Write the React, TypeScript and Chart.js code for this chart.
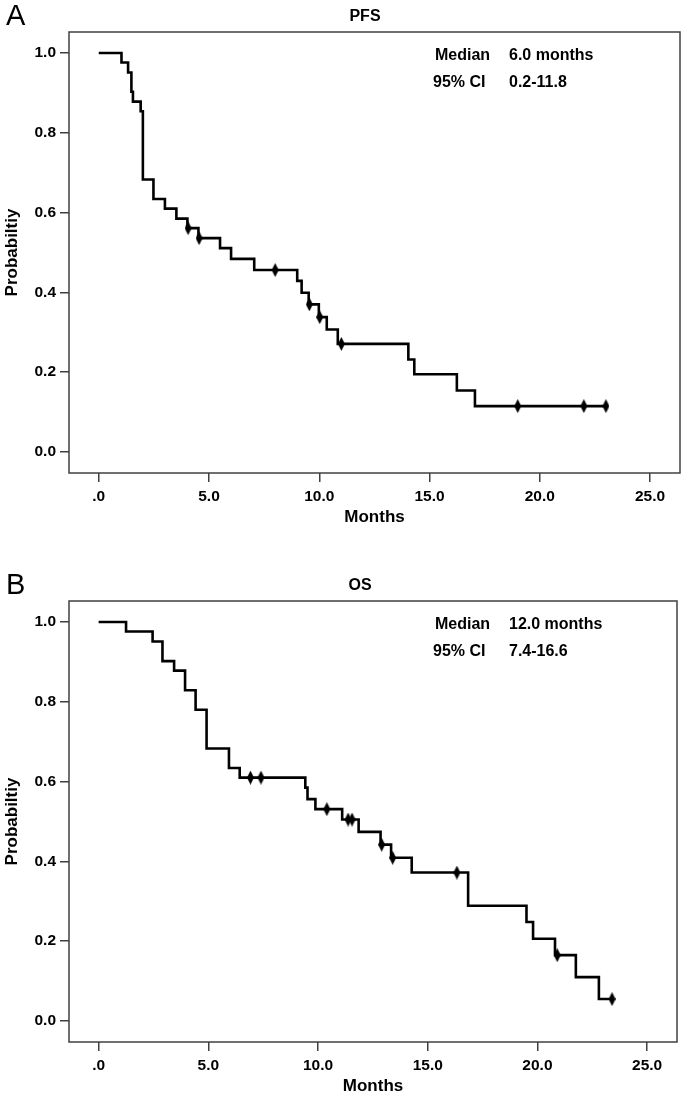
import React, { useEffect, useRef } from 'react';
import { Chart, registerables } from 'chart.js';
Chart.register(...registerables);

// ---- data ----
const xTicks = [0, 5, 10, 15, 20, 25];
const yTicks = [0, 0.2, 0.4, 0.6, 0.8, 1.0];

const pfsTimes = [0, 1.03, 1.33, 1.48, 1.55, 1.9, 2.0, 2.48, 3.0, 3.52, 4.02, 4.52, 5.5, 6.0, 7.05, 9.0, 9.2, 9.52, 9.98, 10.34, 10.84, 14.04, 14.31, 16.24, 17.06, 23.0];
const pfsSurv = [1.0, 0.976, 0.951, 0.903, 0.878, 0.854, 0.683, 0.634, 0.61, 0.585, 0.561, 0.536, 0.511, 0.484, 0.456, 0.429, 0.399, 0.37, 0.338, 0.307, 0.271, 0.232, 0.195, 0.154, 0.115, 0.115];
const pfsCensorTimes = [4.05, 4.55, 8.0, 9.55, 10.02, 11.0, 19.0, 22.0, 23.0];
const pfsCensorSurv = [0.561, 0.536, 0.456, 0.37, 0.338, 0.271, 0.115, 0.115, 0.115];

const osTimes = [0, 1.25, 2.46, 2.91, 3.44, 3.94, 4.42, 4.92, 5.94, 6.43, 9.42, 9.52, 9.88, 11.1, 11.85, 12.85, 13.33, 14.27, 16.84, 19.5, 19.8, 20.8, 21.75, 22.8, 23.4];
const osSurv = [1.0, 0.976, 0.951, 0.902, 0.878, 0.829, 0.78, 0.683, 0.634, 0.61, 0.585, 0.556, 0.531, 0.505, 0.474, 0.442, 0.409, 0.372, 0.289, 0.248, 0.206, 0.165, 0.11, 0.055, 0.055];
const osCensorTimes = [6.92, 7.4, 10.4, 11.37, 11.55, 12.9, 13.4, 16.33, 20.9, 23.4];
const osCensorSurv = [0.61, 0.61, 0.531, 0.505, 0.505, 0.442, 0.409, 0.372, 0.165, 0.055];

const pfsLabel = { letter: 'A', title: 'PFS', median: '6.0 months', ci: '0.2-11.8', titleX: 365 };
const osLabel = { letter: 'B', title: 'OS', median: '12.0 months', ci: '7.4-16.6', titleX: 360 };

const FONT = '"Liberation Sans", Arial, sans-serif';

function makeDiamond(): HTMLCanvasElement {
  const c = document.createElement('canvas');
  c.width = 7;
  c.height = 14;
  const g = c.getContext('2d')!;
  g.fillStyle = '#000';
  g.beginPath();
  g.moveTo(3.5, 0);
  g.lineTo(7, 7);
  g.lineTo(3.5, 14);
  g.lineTo(0, 7);
  g.closePath();
  g.fill();
  return c;
}

const overlay = {
  id: 'overlay',
  afterDraw(chart: any, _args: any, opts: any) {
    const { ctx, chartArea: a } = chart;
    ctx.save();
    ctx.strokeStyle = '#404040';
    ctx.lineWidth = 1.5;
    ctx.strokeRect(a.left, a.top, a.right - a.left, a.bottom - a.top);
    ctx.fillStyle = '#000';
    ctx.textBaseline = 'middle';
    ctx.textAlign = 'left';
    ctx.font = `29px ${FONT}`;
    ctx.fillText(opts.letter, 6, 17);
    ctx.textAlign = 'center';
    ctx.font = `bold 16px ${FONT}`;
    ctx.fillText(opts.title, opts.titleX, 17);
    ctx.textAlign = 'left';
    ctx.fillText('Median', 435, 56);
    ctx.fillText(opts.median, 509, 56);
    ctx.fillText('95% CI', 433, 83);
    ctx.fillText(opts.ci, 509, 83);
    ctx.textAlign = 'center';
    ctx.font = `bold 17px ${FONT}`;
    ctx.fillText('Months', (a.left + a.right) / 2, 517);
    ctx.translate(12, (a.top + a.bottom) / 2);
    ctx.rotate(-Math.PI / 2);
    ctx.fillText('Probabiltiy', 0, 0);
    ctx.restore();
  },
};

type PanelProps = {
  labels: { letter: string; title: string; median: string; ci: string; titleX: number };
  times: number[];
  surv: number[];
  cT: number[];
  cS: number[];
  top: number;
  padRight: number;
};

function Panel({ labels, times, surv, cT, cS, top, padRight }: PanelProps) {
  const ref = useRef<HTMLCanvasElement>(null);
  useEffect(() => {
    const diamond = makeDiamond();
    const tickFont = { family: FONT, size: 15.5, weight: 'bold' as const };
    const chart = new Chart(ref.current!, {
      type: 'scatter',
      data: {
        datasets: [
          {
            data: times.map((t, i) => ({ x: t, y: surv[i] })),
            showLine: true,
            stepped: 'before',
            borderColor: '#000',
            borderWidth: 2.6,
            pointRadius: 0,
            fill: false,
          } as any,
          {
            data: cT.map((t, i) => ({ x: t, y: cS[i] })),
            showLine: false,
            pointStyle: diamond,
            pointRadius: 5,
          } as any,
        ],
      },
      options: {
        responsive: false,
        animation: false,
        devicePixelRatio: 1,
        layout: { padding: { left: 0, right: padRight, top: 32, bottom: 0 } },
        plugins: {
          legend: { display: false },
          tooltip: { enabled: false },
          overlay: labels,
        } as any,
        scales: {
          x: {
            type: 'linear',
            min: -1.35,
            max: 26.36,
            afterBuildTicks: (s: any) => {
              s.ticks = xTicks.map((v) => ({ value: v }));
            },
            afterFit: (s: any) => {
              s.height = 57;
            },
            grid: { display: true, drawOnChartArea: false, drawTicks: true, tickLength: 9, color: '#404040', lineWidth: 1.5 },
            border: { display: false },
            ticks: {
              color: '#000',
              font: tickFont,
              padding: 5,
              maxRotation: 0,
              autoSkip: false,
              callback: (v: any) => (v === 0 ? '.0' : Number(v).toFixed(1)),
            },
          },
          y: {
            type: 'linear',
            min: -0.0526,
            max: 1.0526,
            afterBuildTicks: (s: any) => {
              s.ticks = yTicks.map((v) => ({ value: v }));
            },
            afterFit: (s: any) => {
              s.width = 69;
            },
            grid: { display: true, drawOnChartArea: false, drawTicks: true, tickLength: 9, color: '#404040', lineWidth: 1.5 },
            border: { display: false },
            ticks: {
              color: '#000',
              font: tickFont,
              padding: 4,
              autoSkip: false,
              callback: (v: any) => Number(v).toFixed(1),
            },
          },
        },
      },
      plugins: [overlay],
    });
    return () => chart.destroy();
  }, []);
  return (
    <canvas
      ref={ref}
      width={686}
      height={530}
      style={{ position: 'absolute', left: 0, top, width: 686, height: 530, display: 'block' }}
    />
  );
}

export default function App() {
  return (
    <div style={{ position: 'absolute', left: 0, top: 0, width: 686, height: 1099, background: '#fff' }}>
      <Panel labels={pfsLabel} times={pfsTimes} surv={pfsSurv} cT={pfsCensorTimes} cS={pfsCensorSurv} top={0} padRight={5} />
      <Panel labels={osLabel} times={osTimes} surv={osSurv} cT={osCensorTimes} cS={osCensorSurv} top={569} padRight={9} />
    </div>
  );
}
